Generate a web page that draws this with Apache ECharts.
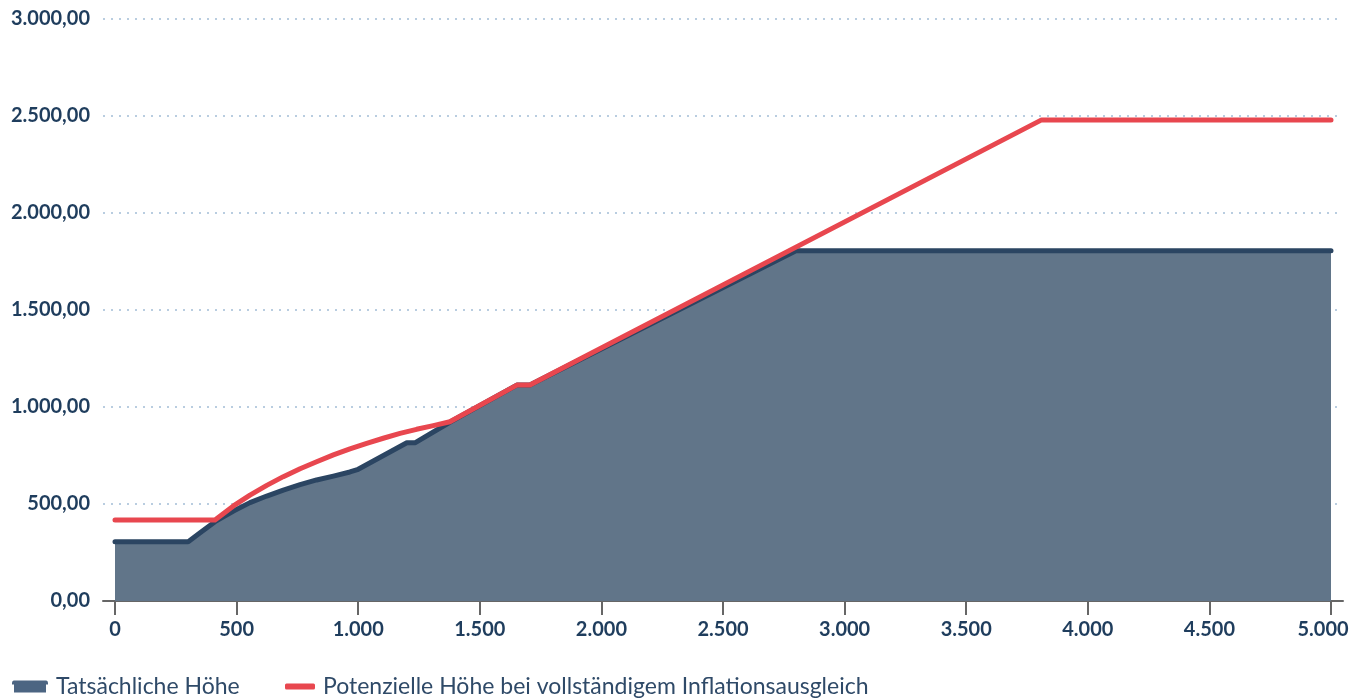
<!DOCTYPE html>
<html>
<head>
<meta charset="utf-8">
<script src="https://cdn.jsdelivr.net/npm/echarts@6/dist/echarts.min.js"></script>
<style>
html,body{margin:0;padding:0;background:#fff;}
#c{width:1352px;height:698px;}
</style>
</head>
<body>
<div id="c"></div>
<script>
// Series names
const seriesNames = ['Tatsächliche Höhe', 'Potenzielle Höhe bei vollständigem Inflationsausgleich'];
// Actual amount (x, y)
const actualX = [0, 301, 350, 411, 487, 555, 624, 692, 761, 829, 898, 966, 1000, 1200, 1235, 1380, 1652, 1706, 2800, 5000];
const actualY = [306, 306, 352, 409, 464, 507, 541, 572, 600, 624, 644, 665, 679, 816, 816, 924, 1113, 1113, 1805, 1805];
// Potential amount with full inflation compensation (x, y)
const potX = [0, 411, 487, 555, 624, 692, 761, 829, 898, 966, 1035, 1103, 1172, 1240, 1309, 1377, 1652, 1706, 3810, 5000];
const potY = [418, 418, 490, 546, 596, 641, 682, 718, 753, 784, 813, 839, 864, 885, 904, 924, 1113, 1113, 2480, 2480];
// Axis ticks
const xTicks = [0, 500, 1000, 1500, 2000, 2500, 3000, 3500, 4000, 4500, 5000];
const yTicks = [0, 500, 1000, 1500, 2000, 2500, 3000];

function thousands(n) {
  const s = String(Math.round(Math.abs(n)));
  return (n < 0 ? '-' : '') + s.replace(/\B(?=(\d{3})+(?!\d))/g, '.');
}
function fmtY(v) { return thousands(v) + ',00'; }
function fmtX(v) {
  return v === xTicks[xTicks.length - 1] ? '{last|' + thousands(v) + '}' : thousands(v);
}

const actualData = actualX.map((x, i) => [x, actualY[i]]);
const potData = potX.map((x, i) => [x, potY[i]]);

const FONT = 'Lato, "Source Sans Pro", "Noto Sans", sans-serif';
const labelColor = '#1f3d5d';
const legendText = {color: '#2f4a68', fontFamily: FONT, fontSize: 23, padding: [0, 0, 0, 3]};

const chart = echarts.init(document.getElementById('c'), null, {renderer: 'canvas'});
chart.setOption({
  animation: false,
  backgroundColor: '#ffffff',
  textStyle: {fontFamily: FONT},
  grid: [
    {left: 103, right: 9, top: 19, bottom: 97, containLabel: false, outerBoundsMode: 'none'},
    {left: 115, right: 21, top: 19, bottom: 97, containLabel: false, outerBoundsMode: 'none'}
  ],
  xAxis: [
    {
      gridIndex: 0, type: 'value', min: -50, max: 5050,
      axisLine: {show: true, lineStyle: {color: '#666666', width: 2}},
      axisTick: {show: false}, axisLabel: {show: false}, splitLine: {show: false}
    },
    {
      gridIndex: 1, type: 'value', min: xTicks[0], max: xTicks[xTicks.length - 1], interval: 500,
      axisLine: {show: false},
      axisTick: {show: true, length: 14, lineStyle: {color: '#666666', width: 2}},
      axisLabel: {
        show: true, margin: 19, color: labelColor, fontFamily: FONT, fontWeight: 'bold', fontSize: 20,
        formatter: fmtX, hideOverlap: false,
        rich: {
          last: {color: labelColor, fontFamily: FONT, fontWeight: 'bold', fontSize: 20, padding: [0, 16, 0, 0]}
        }
      },
      splitLine: {show: false}
    }
  ],
  yAxis: [
    {
      gridIndex: 0, type: 'value', min: yTicks[0], max: yTicks[yTicks.length - 1], interval: 500,
      axisLine: {show: false}, axisTick: {show: false},
      axisLabel: {
        show: true, margin: 13, color: labelColor, fontFamily: FONT, fontWeight: 'bold', fontSize: 20,
        formatter: fmtY
      },
      splitLine: {show: true, lineStyle: {color: '#b9cde0', width: 2, type: [2, 6]}}
    },
    {
      gridIndex: 1, type: 'value', min: yTicks[0], max: yTicks[yTicks.length - 1], interval: 500,
      show: false, splitLine: {show: false}
    }
  ],
  legend: [
    {
      left: 12, top: 675, padding: 0, itemWidth: 36, itemHeight: 12,
      textStyle: legendText,
      data: [
        {name: seriesNames[0], icon: 'path://M2,0 L34,0 Q36,0 36,3 L36,4 L34,4 L34,12 L2,12 L2,4 L0,4 L0,3 Q0,0 2,0 Z',
         itemStyle: {color: '#4c6582'}}
      ]
    },
    {
      left: 285, top: 675, padding: 0, itemWidth: 30, itemHeight: 6,
      textStyle: legendText,
      data: [
        {name: seriesNames[1], icon: 'roundRect', itemStyle: {color: '#e8474f'}}
      ]
    }
  ],
  series: [
    {
      name: seriesNames[0], type: 'line', xAxisIndex: 1, yAxisIndex: 1,
      data: actualData, symbol: 'none', smooth: false,
      lineStyle: {color: '#2b4562', width: 5, cap: 'round', join: 'round'},
      itemStyle: {color: '#4c6582'},
      areaStyle: {color: '#617589', opacity: 1},
      z: 2
    },
    {
      name: seriesNames[1], type: 'line', xAxisIndex: 1, yAxisIndex: 1,
      data: potData, symbol: 'none', smooth: false,
      lineStyle: {color: '#e8474f', width: 5, cap: 'round', join: 'round'},
      itemStyle: {color: '#e8474f'},
      z: 3
    }
  ]
});
</script>
</body>
</html>
